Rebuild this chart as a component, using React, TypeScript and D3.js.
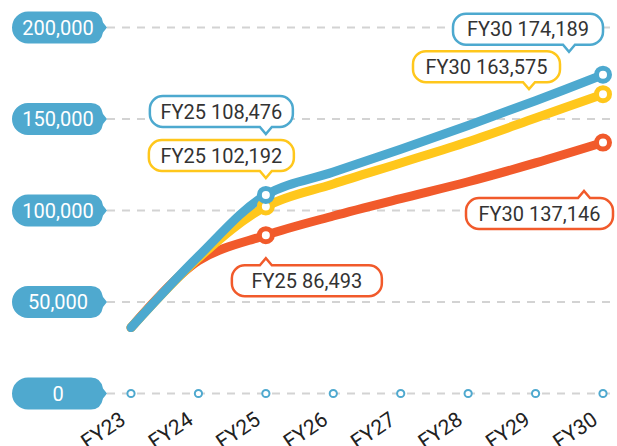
import React from "react";
import * as d3 from "d3";

const categories = ["FY23", "FY24", "FY25", "FY26", "FY27", "FY28", "FY29", "FY30"];
const blueValues = [36000, 75000, 108476, 121000, 133500, 146500, 160000, 174189];
const yellowValues = [36000, 74000, 102192, 114500, 126000, 137600, 150500, 163575];
const orangeValues = [36000, 72500, 86493, 97000, 106500, 115700, 126000, 137146];
const yTicks = [0, 50000, 100000, 150000, 200000];

const W = 617;
const H = 446;
const COLORS = { blue: "#4DA9CF", yellow: "#FFC71C", orange: "#F15A2B" };
const AXIS_FILL = "#4FA9CF";
const FONT = "Roboto, 'Noto Sans', sans-serif";

type Series = { key: "blue" | "yellow" | "orange"; values: number[] };
const series: Series[] = [
  { key: "orange", values: orangeValues },
  { key: "yellow", values: yellowValues },
  { key: "blue", values: blueValues },
];

// callout layout: offsets relative to the data point
const callouts = [
  { key: "blue", cat: "FY25", dx: -116, w: 143, pdx: 0, tipDy: -61, up: false },
  { key: "yellow", cat: "FY25", dx: -117, w: 145, pdx: 0, tipDy: -28.5, up: false },
  { key: "orange", cat: "FY25", dx: -34, w: 150, pdx: 0, tipDy: 23, up: true },
  { key: "blue", cat: "FY30", dx: -150, w: 150, pdx: -34, tipDy: -23, up: false },
  { key: "yellow", cat: "FY30", dx: -190, w: 147, pdx: -74, tipDy: -5, up: false },
  { key: "orange", cat: "FY30", dx: -137, w: 147, pdx: -19, tipDy: 48.5, up: true },
] as const;

function calloutPath(x: number, y: number, w: number, h: number, r: number, px: number, up: boolean) {
  const d = 7, hw = 6;
  if (!up) {
    return `M${x + r},${y} H${x + w - r} A${r},${r} 0 0 1 ${x + w},${y + r} V${y + h - r} A${r},${r} 0 0 1 ${x + w - r},${y + h} H${px + hw} L${px},${y + h + d} L${px - hw},${y + h} H${x + r} A${r},${r} 0 0 1 ${x},${y + h - r} V${y + r} A${r},${r} 0 0 1 ${x + r},${y} Z`;
  }
  return `M${x + r},${y} H${px - hw} L${px},${y - d} L${px + hw},${y} H${x + w - r} A${r},${r} 0 0 1 ${x + w},${y + r} V${y + h - r} A${r},${r} 0 0 1 ${x + w - r},${y + h} H${x + r} A${r},${r} 0 0 1 ${x},${y + h - r} V${y + r} A${r},${r} 0 0 1 ${x + r},${y} Z`;
}

function pillPath(x0: number, x1: number, cy: number) {
  const r = 16;
  const top = cy - r, bot = cy + r;
  return `M${x0 + r},${top} L${x1 - 16},${top} Q${x1 - 6},${top} ${x1 - 4},${cy - 5} L${x1},${cy} L${x1 - 4},${cy + 5} Q${x1 - 6},${bot} ${x1 - 16},${bot} L${x0 + r},${bot} A${r},${r} 0 0 1 ${x0 + r},${top} Z`;
}

export default function App() {
  const x = d3.scalePoint<string>().domain(categories).range([131, 603]);
  const y = d3.scaleLinear().domain([0, 200000]).range([393.5, 27.5]);
  const line = d3
    .line<number>()
    .x((_, i) => x(categories[i]) as number)
    .y((v) => y(v))
    .curve(d3.curveCatmullRom.alpha(0.5));
  const fmt = d3.format(",");
  const valueOf = (key: string, cat: string) => {
    const s = series.find((s) => s.key === key)!;
    return s.values[categories.indexOf(cat)];
  };

  return (
    <svg width={W} height={H} style={{ position: "absolute", left: 0, top: 0, background: "#fff" }} fontFamily={FONT}>
      {/* gridlines */}
      {yTicks.map((t) => (
        <line key={"g" + t} x1={107} x2={W} y1={y(t)} y2={y(t)} stroke="#D3D3D3" strokeWidth={2} strokeDasharray="8 7" />
      ))}
      {/* y axis pills */}
      {yTicks.map((t) => (
        <g key={"p" + t}>
          <path d={pillPath(12, 107, y(t))} fill={AXIS_FILL} />
          <text x={58} y={y(t)} dy="0.36em" textAnchor="middle" fill="#fff" fontSize={20}>
            {fmt(t)}
          </text>
        </g>
      ))}
      {/* x axis tick circles */}
      {categories.map((c) => (
        <circle key={"t" + c} cx={x(c)} cy={y(0)} r={3.6} fill="#fff" stroke={AXIS_FILL} strokeWidth={2} />
      ))}
      {/* x labels */}
      {categories.map((c) => (
        <text
          key={"l" + c}
          transform={`translate(${(x(c) as number) - 4},${423}) rotate(-34)`}
          textAnchor="end"
          fontSize={21}
          fill="#222"
        >
          {c}
        </text>
      ))}
      {/* lines */}
      {series.map((s) => (
        <path
          key={"s" + s.key}
          d={line(s.values) || ""}
          fill="none"
          stroke={COLORS[s.key]}
          strokeWidth={9}
          strokeLinecap="round"
          strokeLinejoin="round"
        />
      ))}
      {/* highlight points */}
      {series.map((s) =>
        ["FY25", "FY30"].map((c) => (
          <circle
            key={"pt" + s.key + c}
            cx={x(c)}
            cy={y(s.values[categories.indexOf(c)])}
            r={6.5}
            fill="#fff"
            stroke={COLORS[s.key]}
            strokeWidth={5}
          />
        ))
      )}
      {/* callouts */}
      {callouts.map((co) => {
        const v = valueOf(co.key, co.cat);
        const px = x(co.cat) as number;
        const py = y(v);
        const h = 31;
        const tipY = py + co.tipDy;
        const boxY = co.up ? tipY + 7 : tipY - 7 - h;
        const bx = px + co.dx;
        return (
          <g key={"c" + co.key + co.cat}>
            <path
              d={calloutPath(bx, boxY, co.w, h, 13, px + co.pdx, co.up)}
              fill="#fff"
              stroke={COLORS[co.key]}
              strokeWidth={2.5}
            />
            <text x={bx + co.w / 2} y={boxY + h / 2} dy="0.36em" textAnchor="middle" fontSize={20} fill="#333">
              {`${co.cat} ${fmt(v)}`}
            </text>
          </g>
        );
      })}
    </svg>
  );
}
